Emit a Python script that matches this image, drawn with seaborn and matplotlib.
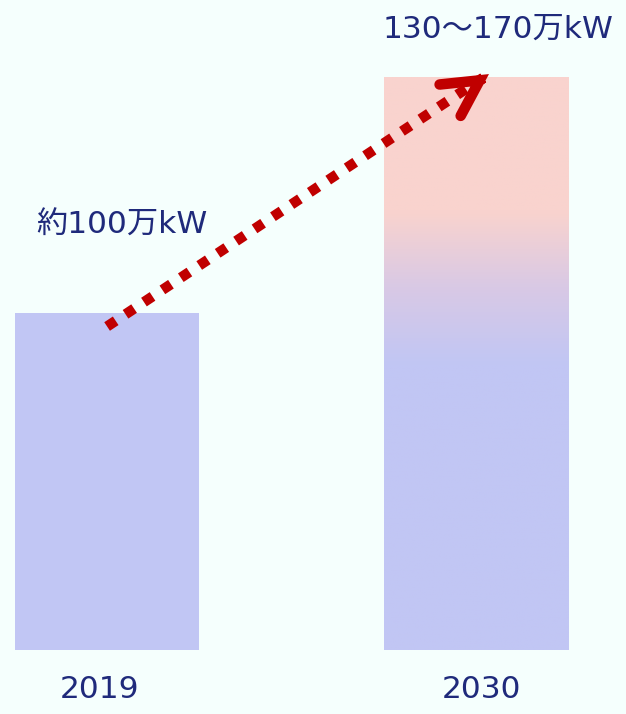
import numpy as np
import pandas as pd
import matplotlib
matplotlib.use("Agg")
import matplotlib.pyplot as plt
from matplotlib.colors import LinearSegmentedColormap
import seaborn as sns

# ---- data ----
years = ["2019", "2030"]
capacity = [100, 170]          # 万kW (2030: upper end of 130～170)
labels = ["約100万kW", "130～170万kW"]

BG = "#F5FFFD"
BLUE = "#C1C6F4"
PINK = "#F9D3CE"
NAVY = "#1F2A7B"
RED = "#C00000"

sns.set_theme(style="white")
plt.rcParams["font.family"] = ["DejaVu Sans", "Noto Sans CJK JP"]

fig = plt.figure(figsize=(6.26, 7.14), dpi=100, facecolor=BG)
ax = fig.add_axes([0, 0, 1, 1])
ax.set_facecolor(BG)

df = pd.DataFrame({"year": years, "cap": capacity})
sns.barplot(data=df, x="year", y="cap", color=BLUE, saturation=1,
            width=0.5, ax=ax, edgecolor="none")

XLIM = (-0.29, 1.405)
YLIM = (-18.99, 192.88)

# gradient on 2030 bar
bar = ax.patches[1]
bx, bw = bar.get_x(), bar.get_width()
cmap = LinearSegmentedColormap.from_list(
    "g", [(0.0, BLUE), (0.50, BLUE), (0.635, "#D9C9E5"), (0.765, PINK), (1.0, PINK)])
grad = np.linspace(0, 1, 256).reshape(-1, 1)
im = ax.imshow(grad, cmap=cmap, origin="lower", aspect="auto",
               extent=[bx, bx + bw, 0, capacity[1]], zorder=2)
im.set_clip_path(bar)
ax.set_xlim(*XLIM)
ax.set_ylim(*YLIM)
ax.axis("off")

# dotted arrow
x0, y0 = 0.0, capacity[0] - 4
x1, y1 = 1.034, capacity[1] + 0.9
ax.plot([x0, x1 - 0.025], [y0, y1 - 1.7], color=RED, lw=7.4,
        linestyle=(0, (1.0, 1.15)), solid_capstyle="butt",
        dash_capstyle="butt", zorder=4)
ax.annotate("", xy=(x1, y1), xytext=(x1 - 0.019, y1 - 1.4),
            arrowprops=dict(arrowstyle="->,head_length=1.28,head_width=0.68",
                            color=RED, lw=7.6, capstyle="round",
                            joinstyle="miter", shrinkA=0, shrinkB=0,
                            mutation_scale=20),
            zorder=5)

# text labels
FS = 22.5
ax.text(-0.192, 126, labels[0], fontsize=FS, color=NAVY,
        ha="left", va="center")
ax.text(0.747, 184.2, labels[1], fontsize=FS, color=NAVY,
        ha="left", va="center")
for i, y in enumerate(years):
    ax.text(i + (-0.02 if i == 0 else 0.014), -11.8, y, fontsize=FS,
            color=NAVY, ha="center", va="center")

fig.savefig("out.png", dpi=100, facecolor=BG)
